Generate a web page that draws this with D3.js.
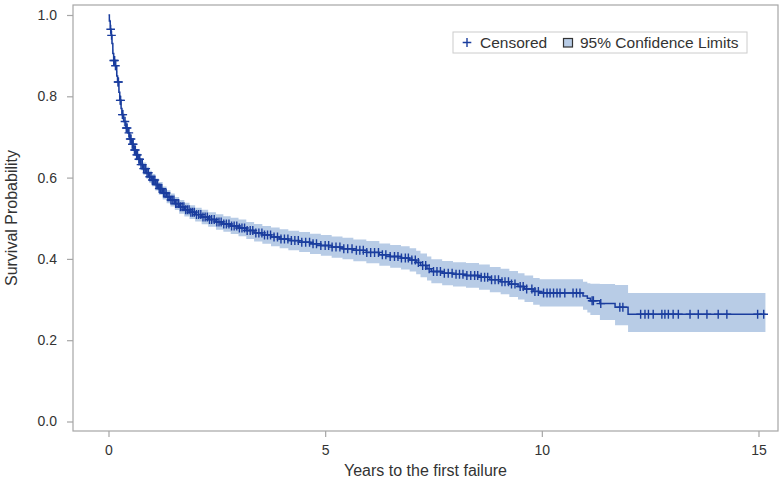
<!DOCTYPE html>
<html>
<head>
<meta charset="utf-8">
<script src="https://cdn.jsdelivr.net/npm/d3@7"></script>
<style>
  body { margin: 0; background: #fff; }
  text { font-family: "Liberation Sans", Arial, sans-serif; }
</style>
</head>
<body>
<div id="wrapper"></div>
<script>
// step points of the survival curve (years, probability) and 95% limits
const times = [0, 0.02, 0.04, 0.06, 0.08, 0.10, 0.12, 0.16, 0.19, 0.21, 0.24, 0.26, 0.29, 0.31, 0.35, 0.40, 0.45, 0.49, 0.53, 0.58,
  0.63, 0.68, 0.74, 0.80, 0.87, 0.94, 1.00, 1.08, 1.16, 1.25, 1.34, 1.43, 1.53, 1.63, 1.75, 1.87, 2.00, 2.15, 2.30, 2.48,
  2.65, 2.82, 3.00, 3.18, 3.36, 3.55, 3.75, 3.95, 4.15, 4.40, 4.65, 4.90, 5.15, 5.40, 5.65, 5.95, 6.25, 6.50, 6.75, 6.95,
  7.10, 7.20, 7.35, 7.45, 7.70, 7.95, 8.25, 8.55, 8.80, 9.05, 9.25, 9.45, 9.60, 9.80, 9.95, 10.95, 11.05, 11.12, 11.34, 11.69,
  11.99, 15.16];
const survival = [1.000, 0.985, 0.965, 0.950, 0.930, 0.905, 0.888, 0.875, 0.850, 0.835, 0.810, 0.790, 0.770, 0.755, 0.738, 0.722, 0.710, 0.695, 0.682, 0.668,
  0.656, 0.645, 0.632, 0.622, 0.612, 0.602, 0.594, 0.583, 0.573, 0.562, 0.553, 0.545, 0.536, 0.528, 0.521, 0.515, 0.509, 0.503, 0.497, 0.491,
  0.486, 0.481, 0.476, 0.470, 0.464, 0.459, 0.454, 0.449, 0.445, 0.441, 0.437, 0.433, 0.429, 0.425, 0.421, 0.416, 0.410, 0.406, 0.402, 0.397,
  0.391, 0.384, 0.376, 0.369, 0.365, 0.362, 0.359, 0.355, 0.349, 0.344, 0.338, 0.332, 0.326, 0.320, 0.316, 0.309, 0.303, 0.297, 0.290, 0.281,
  0.264, 0.264];
const lower = [1.000, 0.979, 0.957, 0.941, 0.920, 0.894, 0.877, 0.863, 0.838, 0.823, 0.798, 0.778, 0.758, 0.743, 0.725, 0.709, 0.697, 0.682, 0.668, 0.654,
  0.642, 0.631, 0.618, 0.607, 0.597, 0.587, 0.579, 0.568, 0.558, 0.546, 0.537, 0.529, 0.520, 0.511, 0.504, 0.498, 0.492, 0.485, 0.479, 0.472,
  0.467, 0.461, 0.456, 0.449, 0.443, 0.437, 0.431, 0.426, 0.421, 0.417, 0.412, 0.408, 0.403, 0.399, 0.394, 0.389, 0.383, 0.378, 0.374, 0.369,
  0.362, 0.355, 0.347, 0.340, 0.335, 0.332, 0.329, 0.324, 0.318, 0.313, 0.306, 0.300, 0.294, 0.287, 0.283, 0.275, 0.268, 0.262, 0.250, 0.237,
  0.220, 0.220];
const upper = [1.000, 0.990, 0.972, 0.958, 0.939, 0.915, 0.899, 0.886, 0.862, 0.847, 0.822, 0.802, 0.782, 0.767, 0.751, 0.735, 0.723, 0.708, 0.696, 0.682,
  0.670, 0.659, 0.646, 0.637, 0.627, 0.617, 0.609, 0.598, 0.589, 0.578, 0.569, 0.561, 0.552, 0.545, 0.538, 0.532, 0.526, 0.521, 0.515, 0.510,
  0.505, 0.501, 0.497, 0.491, 0.486, 0.481, 0.477, 0.473, 0.469, 0.466, 0.462, 0.459, 0.455, 0.452, 0.448, 0.444, 0.438, 0.434, 0.431, 0.426,
  0.420, 0.413, 0.406, 0.399, 0.395, 0.392, 0.390, 0.386, 0.380, 0.376, 0.370, 0.365, 0.359, 0.353, 0.350, 0.344, 0.340, 0.339, 0.338, 0.336,
  0.316, 0.316];

// censored observation times (years)
const censored = [0.05, 0.07, 0.12, 0.14, 0.16, 0.22, 0.23, 0.27, 0.28, 0.32, 0.33, 0.38, 0.41, 0.43, 0.47, 0.50, 0.52, 0.55, 0.57, 0.60,
  0.62, 0.65, 0.67, 0.70, 0.72, 0.75, 0.78, 0.81, 0.84, 0.86, 0.89, 0.92, 0.95, 0.98, 1.01, 1.04, 1.07, 1.10, 1.13, 1.17,
  1.20, 1.23, 1.27, 1.30, 1.33, 1.37, 1.40, 1.44, 1.47, 1.51, 1.55, 1.58, 1.62, 1.66, 1.70, 1.74, 1.78, 1.82, 1.86, 1.90,
  1.94, 1.98, 2.03, 2.08, 2.13, 2.18, 2.23, 2.28, 2.33, 2.38, 2.44, 2.50, 2.55, 2.60, 2.66, 2.72, 2.78, 2.84, 2.90, 2.96,
  3.02, 3.08, 3.14, 3.20, 3.27, 3.33, 3.40, 3.47, 3.54, 3.60, 3.67, 3.74, 3.82, 3.90, 3.98, 4.06, 4.14, 4.22, 4.30, 4.38,
  4.46, 4.55, 4.64, 4.72, 4.80, 4.90, 5.00, 5.08, 5.16, 5.25, 5.34, 5.43, 5.52, 5.62, 5.72, 5.80, 5.88, 5.96, 6.05, 6.14,
  6.23, 6.32, 6.40, 6.50, 6.60, 6.68, 6.76, 6.85, 6.92, 7.00, 7.08, 7.15, 7.25, 7.32, 7.40, 7.50, 7.58, 7.66, 7.75, 7.84,
  7.93, 8.02, 8.10, 8.18, 8.27, 8.36, 8.45, 8.52, 8.60, 8.68, 8.75, 8.84, 8.92, 9.00, 9.08, 9.15, 9.23, 9.30, 9.38, 9.50,
  9.57, 9.65, 9.77, 9.84, 9.92, 10.04, 10.12, 10.19, 10.27, 10.35, 10.42, 10.53, 10.72, 10.80, 10.88, 11.16, 11.19, 11.36, 11.80, 11.87,
  12.28, 12.38, 12.46, 12.57, 12.77, 12.84, 12.92, 13.03, 13.15, 13.42, 13.61, 13.81, 14.07, 14.27, 14.98, 15.12];

const xTicks = [0, 5, 10, 15];
const yTicks = [0, 0.2, 0.4, 0.6, 0.8, 1.0];

const lineColor = "#1a3d9e";
const bandColor = "#b8cce6";

const svg = d3.select("#wrapper").append("svg")
    .attr("width", 780)
    .attr("height", 489);

const frame = {left: 73, right: 778, top: 5, bottom: 431};

const x = d3.scaleLinear().domain([0, 15]).range([108.5, 758.5]);
const y = d3.scaleLinear().domain([0, 1]).range([421.5, 15]);

const rows = times.map((t, i) => ({t: t, s: survival[i], lo: lower[i], hi: upper[i]}));

svg.append("path")
    .attr("d", d3.area()
        .curve(d3.curveStepAfter)
        .x(d => x(d.t))
        .y0(d => y(d.lo))
        .y1(d => y(d.hi))(rows))
    .attr("fill", bandColor);

svg.append("path")
    .attr("d", d3.line()
        .curve(d3.curveStepAfter)
        .x(d => x(d.t))
        .y(d => y(d.s))(rows))
    .attr("fill", "none")
    .attr("stroke", lineColor)
    .attr("stroke-width", 1.5);

const bis = d3.bisector(d => d).right;
const survAt = t => survival[Math.max(0, bis(times, t) - 1)];

const plus = "M-4.3,0H4.3M0,-4.5V4.5";

svg.append("g").selectAll("path")
    .data(censored)
    .join("path")
    .attr("transform", d => `translate(${x(d)},${y(survAt(d))})`)
    .attr("d", plus)
    .attr("stroke", lineColor)
    .attr("stroke-width", 1.4)
    .attr("fill", "none");

// frame
svg.append("rect")
    .attr("x", frame.left)
    .attr("y", frame.top)
    .attr("width", frame.right - frame.left)
    .attr("height", frame.bottom - frame.top)
    .attr("fill", "none")
    .attr("stroke", "#a6a6a6")
    .attr("stroke-width", 1.2);

const yAxis = svg.append("g")
    .attr("transform", `translate(${frame.left},0)`)
    .call(d3.axisLeft(y).tickValues(yTicks).tickFormat(d3.format(".1f")).tickSize(6).tickPadding(10));

const xAxis = svg.append("g")
    .attr("transform", `translate(0,${frame.bottom})`)
    .call(d3.axisBottom(x).tickValues(xTicks).tickFormat(d3.format("d")).tickSize(6).tickPadding(8));

[xAxis, yAxis].forEach(a => {
    a.select(".domain").remove();
    a.selectAll(".tick line").attr("stroke", "#a6a6a6").attr("stroke-width", 1.2);
    a.selectAll(".tick text")
        .attr("fill", "#333")
        .style("font-size", "14px")
        .style("font-family", "'Liberation Sans', Arial, sans-serif");
});

svg.append("text")
    .attr("x", (frame.left + frame.right) / 2)
    .attr("y", 476)
    .attr("text-anchor", "middle")
    .attr("fill", "#333")
    .style("font-size", "16px")
    .text("Years to the first failure");

svg.append("text")
    .attr("transform", `translate(16.5,${(frame.top + frame.bottom) / 2}) rotate(-90)`)
    .attr("text-anchor", "middle")
    .attr("fill", "#333")
    .style("font-size", "16px")
    .text("Survival Probability");

// legend
const legend = svg.append("g");
legend.append("rect")
    .attr("x", 453).attr("y", 32)
    .attr("width", 294).attr("height", 21)
    .attr("fill", "#fff")
    .attr("stroke", "#cccccc");
legend.append("path")
    .attr("transform", "translate(467,42.5)")
    .attr("d", plus)
    .attr("stroke", lineColor)
    .attr("stroke-width", 1.4);
legend.append("text")
    .attr("x", 480).attr("y", 48)
    .attr("fill", "#333")
    .style("font-size", "15.5px")
    .text("Censored");
legend.append("rect")
    .attr("x", 563.5).attr("y", 38.5)
    .attr("width", 9).attr("height", 8.5)
    .attr("fill", bandColor)
    .attr("stroke", "#333")
    .attr("stroke-width", 1.2);
legend.append("text")
    .attr("x", 580).attr("y", 48)
    .attr("fill", "#333")
    .style("font-size", "15.5px")
    .text("95% Confidence Limits");
</script>
</body>
</html>
